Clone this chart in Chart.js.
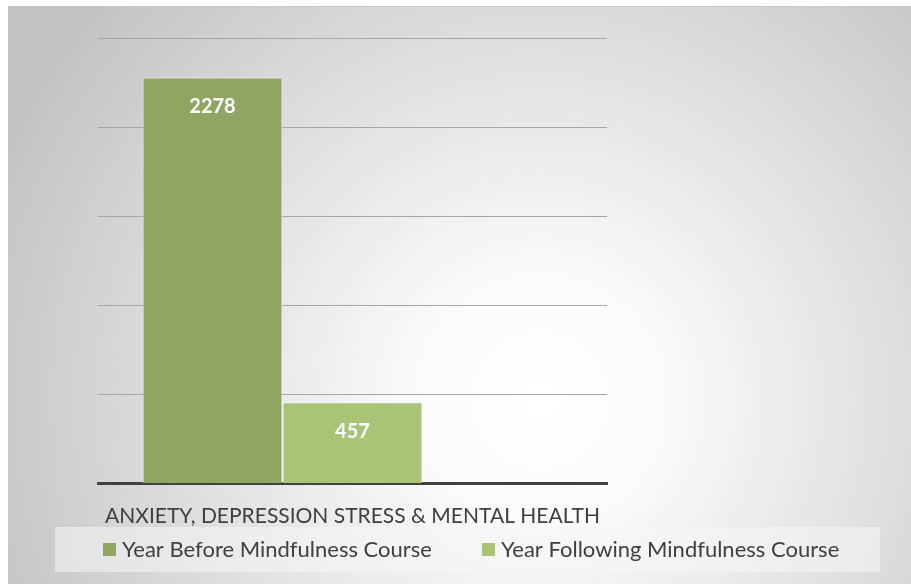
<!DOCTYPE html>
<html>
<head>
<meta charset="utf-8">
<script src="https://cdn.jsdelivr.net/npm/chart.js@4"></script>
<style>
html,body{margin:0;padding:0;background:#fff;}
#wrap{width:911px;height:584px;position:relative;}
</style>
</head>
<body>
<div id="wrap"><canvas id="c" width="911" height="584"></canvas></div>
<script>
const categories = ["ANXIETY, DEPRESSION STRESS & MENTAL HEALTH"];
const seriesNames = ["Year Before Mindfulness Course", "Year Following Mindfulness Course"];
const yearBefore = [2278];
const yearFollowing = [457];
const emptySlot = [null];
const yTicks = [0, 500, 1000, 1500, 2000, 2500];

const FONT = "Lato, 'Open Sans', sans-serif";
const colors = ["#8fa662", "#a9c476"];

const bgPlugin = {
  id: 'bg',
  beforeDraw(chart) {
    const ctx = chart.ctx;
    ctx.save();
    ctx.fillStyle = '#ffffff';
    ctx.fillRect(0, 0, 911, 584);
    const g = ctx.createRadialGradient(540, 400, 0, 540, 400, 600);
    g.addColorStop(0, '#ffffff');
    g.addColorStop(0.2, '#fbfbfb');
    g.addColorStop(1, '#c2c2c2');
    ctx.fillStyle = g;
    ctx.fillRect(8, 6, 903, 578);
    ctx.strokeStyle = '#c8c8c8';
    ctx.lineWidth = 1;
    ctx.beginPath();
    ctx.moveTo(8, 6.5); ctx.lineTo(911, 6.5);
    ctx.stroke();
    // legend box
    ctx.fillStyle = 'rgba(245,245,245,0.55)';
    ctx.fillRect(55, 527, 825, 45);
    ctx.restore();
  },
  afterDraw(chart) {
    const ctx = chart.ctx;
    ctx.save();
    // data labels
    ctx.fillStyle = '#ffffff';
    ctx.font = "bold 20px " + FONT;
    ctx.textAlign = 'center';
    ctx.textBaseline = 'middle';
    chart.data.datasets.forEach((ds, di) => {
      if (!ds.label) return;
      const meta = chart.getDatasetMeta(di);
      meta.data.forEach((bar, i) => {
        const v = ds.data[i];
        if (v == null) return;
        ctx.fillText(String(v), bar.x, bar.y + 29);
      });
    });
    // legend
    ctx.font = "22px " + FONT;
    ctx.textAlign = 'left';
    ctx.textBaseline = 'middle';
    const items = [{x: 103}, {x: 482}];
    chart.data.datasets.forEach((ds, di) => {
      if (!ds.label) return;
      const it = items[di];
      ctx.fillStyle = ds.backgroundColor;
      ctx.fillRect(it.x, 543, 13, 13);
      ctx.fillStyle = '#404040';
      ctx.fillText(ds.label, it.x + 19, 550);
    });
    ctx.restore();
  }
};

new Chart(document.getElementById('c'), {
  type: 'bar',
  data: {
    labels: categories,
    datasets: [
      {label: seriesNames[0], data: yearBefore, backgroundColor: colors[0], borderColor: 'rgba(255,255,255,0.7)', borderWidth: 1},
      {label: seriesNames[1], data: yearFollowing, backgroundColor: colors[1], borderColor: 'rgba(255,255,255,0.7)', borderWidth: 1},
      {label: '', data: emptySlot, backgroundColor: 'rgba(0,0,0,0)'}
    ]
  },
  options: {
    responsive: false,
    animation: false,
    devicePixelRatio: 1,
    layout: {padding: {left: 98, right: 304, top: 38, bottom: 35}},
    datasets: {bar: {categoryPercentage: 0.825, barPercentage: 1.0}},
    plugins: {legend: {display: false}, tooltip: {enabled: false}},
    scales: {
      x: {
        grid: {display: false, drawTicks: false},
        border: {display: true, color: '#404040', width: 3},
        ticks: {color: '#404040', font: {family: FONT, size: 21}, padding: 20}
      },
      y: {
        min: yTicks[0], max: yTicks[yTicks.length - 1],
        afterBuildTicks(axis) { axis.ticks = yTicks.map(v => ({value: v})); },
        afterFit(axis) { axis.width = 0; },
        grid: {color: ctx => ctx.tick && ctx.tick.value === 0 ? 'rgba(0,0,0,0)' : '#a6a6a6', lineWidth: 1, drawTicks: false},
        border: {display: false},
        ticks: {display: false}
      }
    }
  },
  plugins: [bgPlugin]
});
</script>
</body>
</html>
